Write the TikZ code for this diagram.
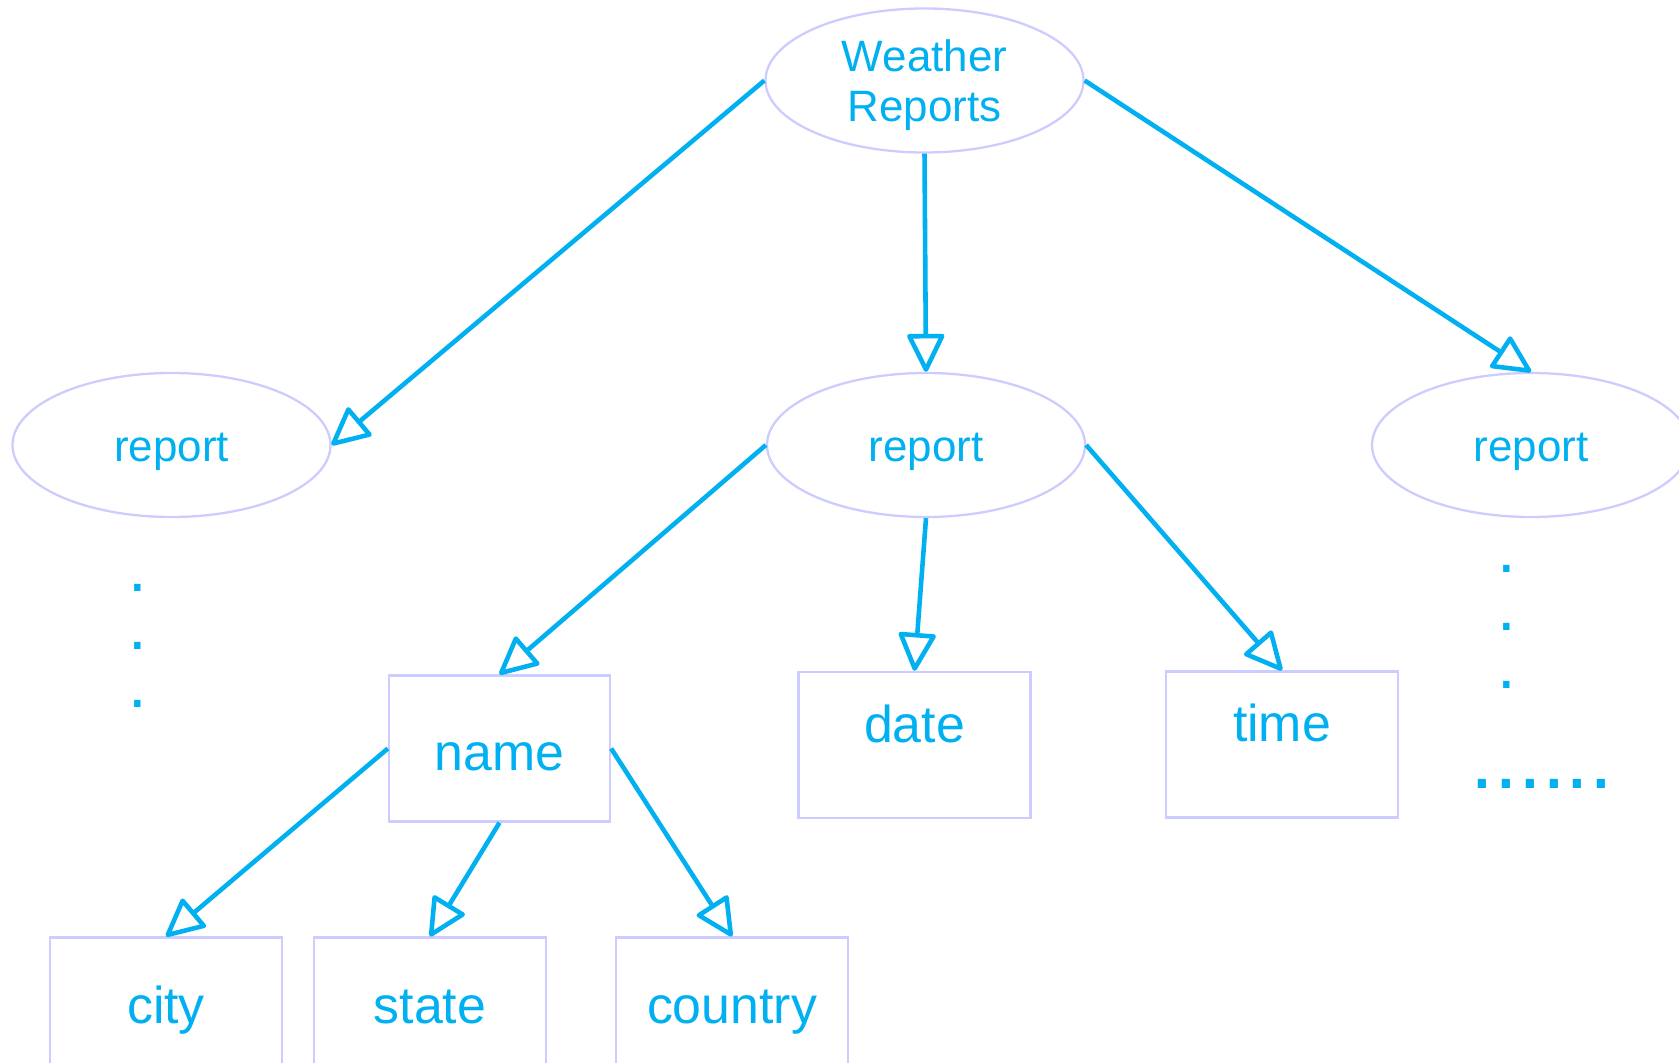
\documentclass[tikz,border=0pt]{standalone}
\usepackage{fontspec}
\setmainfont{Liberation Sans}
\usetikzlibrary{shapes.geometric, arrows.meta}
\definecolor{wrblue}{RGB}{0,176,240}
\definecolor{wrline}{RGB}{204,204,255}
\tikzset{
  ov/.style={ellipse, minimum width=6.36cm, minimum height=2.88cm, inner sep=0pt, align=center, draw=wrline, line width=1.3pt, text=wrblue, text height=0.68cm, text depth=0cm, font=\fontsize{25}{28.5}\selectfont},
  bx/.style={rectangle, minimum width=4.64cm, minimum height=2.92cm, inner sep=0pt, draw=wrline, line width=1.3pt, text=wrblue, text height=0.76cm, text depth=0.24cm, font=\fontsize{29.5}{34}\selectfont},
  raised/.style={text depth=0.87cm, text height=0.75cm},
  dt/.style={text=wrblue, align=center, inner sep=0pt, font=\fontsize{38}{33}\selectfont},
  ar/.style={draw=wrblue, line width=2.6pt, -{Triangle[open,round,length=0.82cm,width=0.78cm]}}
}
\begin{document}
\begin{tikzpicture}
	\clip (0,0) rectangle (33.58,21.24);
	\node[ov, text height=1.66cm, text depth=0cm] (wr) at (18.49,19.63) {Weather\\Reports};
	\node[ov] (rl) at (3.43,12.34) {report};
	\node[ov] (rm) at (18.52,12.34) {report};
	\node[ov] (rr) at (30.62,12.34) {report};
	%
	\node[bx, minimum width=4.42cm, text depth=0cm, text height=0.86cm] (name) at (9.99,6.27) {name};
	\node[bx, raised] (date) at (18.29,6.34) {date};
	\node[bx, raised] (time) at (25.64,6.35) {time};
	\node[bx] (city) at (3.32,1.03) {city};
	\node[bx] (state) at (8.6,1.03) {state};
	\node[bx] (country) at (14.64,1.03) {country};
	%
	\node[dt] (ldots) at (2.76,8.32) {.\\.\\.};
	\node[dt] (rdots) at (30.14,8.7) {.\\.\\.};
	\node[text=wrblue, font=\fontsize{48.5}{50}\selectfont, anchor=base] (more) at (30.84,5.48) {......};
	%
	\draw[ar] (wr.west) -- (rl.east);
	\draw[ar] (wr.south) -- (rm.north);
	\draw[ar] (wr.east) -- (rr.north);
	\draw[ar] (rm.west) -- (name.north);
	\draw[ar] (rm.south) -- (date.north);
	\draw[ar] (rm.east) -- (time.north);
	\draw[ar] (name.west) -- (city.north);
	\draw[ar] (name.south) -- (state.north);
	\draw[ar] (name.east) -- (country.north);
\end{tikzpicture}
\end{document}
